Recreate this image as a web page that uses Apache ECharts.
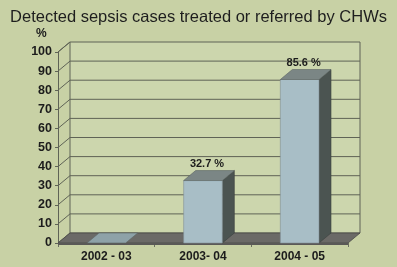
<!DOCTYPE html>
<html>
<head>
<meta charset="utf-8">
<script src="https://cdn.jsdelivr.net/npm/echarts@6/dist/echarts.min.js"></script>
<style>
  html, body { margin: 0; padding: 0; background: #c8d1a5; }
  #chart { width: 397px; height: 267px; }
</style>
</head>
<body>
<div id="chart"></div>
<script>
// datos del grafico
const periods = ['2002 - 03', '2003- 04', '2004 - 05'];
const percentTreated = [0, 32.7, 85.6];
const percentLabels = ['', '32.7 %', '85.6 %'];
const yTicks = [0, 10, 20, 30, 40, 50, 60, 70, 80, 90, 100];

// desplazamiento de la profundidad 3D
const DX = 12, DY = -10;

const chart = echarts.init(document.getElementById('chart'));

// pared del fondo, pared izquierda y lineas de la cuadricula
const renderWall = (params, api) => {
    const cs = params.coordSys;
    const x0 = cs.x, x1 = cs.x + cs.width;
    const yTop = api.coord([0, 100])[1];
    const yBot = api.coord([0, 0])[1];
    const y = api.coord([0, api.value(0)])[1];
    const lineStyle = { stroke: '#5f6356', lineWidth: 1, fill: null };
    const children = [];
    if (params.dataIndex === 0) {
        children.push({
            type: 'polygon',
            shape: { points: [[x0 + DX, yTop + DY], [x1 + DX, yTop + DY], [x1 + DX, yBot + DY], [x0 + DX, yBot + DY]] },
            style: { fill: '#ccd6ad' }
        });
        children.push({
            type: 'polyline',
            shape: { points: [[x0, yTop], [x0 + DX, yTop + DY], [x0 + DX, yBot + DY]] },
            style: lineStyle
        });
        children.push({
            type: 'polyline',
            shape: { points: [[x1 + DX, yTop + DY], [x1 + DX, yBot + DY]] },
            style: lineStyle
        });
    }
    children.push({
        type: 'polyline',
        shape: { points: [[x0, y], [x0 + DX, y + DY], [x1 + DX, y + DY]] },
        style: lineStyle
    });
    return { type: 'group', children };
};

// piso gris oscuro
const renderFloor = (params, api) => {
    const cs = params.coordSys;
    const x0 = cs.x, x1 = cs.x + cs.width;
    const y = api.coord([0, 0])[1];
    return {
        type: 'group',
        children: [
            {
                type: 'polygon',
                shape: { points: [[x0, y], [x0 + DX, y + DY], [x1 + DX, y + DY], [x1, y]] },
                style: { fill: '#6b6a67', stroke: '#4a4a48', lineWidth: 0.8 }
            },
            {
                type: 'polygon',
                shape: { points: [[x0, y], [x1, y], [x1, y + 2], [x0, y + 2]] },
                style: { fill: '#5a5957' }
            }
        ]
    };
};

// barras 3D
const renderBar = (params, api) => {
    const idx = api.value(0);
    const val = api.value(1);
    const base = api.coord([idx, 0]);
    const top = api.coord([idx, val]);
    const w = api.size([1, 0])[0] * 0.4;
    const xl = base[0] - w / 2, xr = base[0] + w / 2;
    const y0 = base[1], y1 = top[1];
    const children = [];
    if (y0 - y1 > 0.5) {
        children.push({
            type: 'polygon',
            shape: { points: [[xr, y1], [xr + DX, y1 + DY], [xr + DX, y0 + DY], [xr, y0]] },
            style: { fill: '#4b5451', stroke: '#3a403e', lineWidth: 0.6 }
        });
        children.push({
            type: 'rect',
            shape: { x: xl, y: y1, width: w, height: y0 - y1 },
            style: { fill: '#a8bec6', stroke: '#7f8f94', lineWidth: 0.6 }
        });
    }
    children.push({
        type: 'polygon',
        shape: { points: [[xl, y1], [xl + DX, y1 + DY], [xr + DX, y1 + DY], [xr, y1]] },
        style: { fill: val > 0 ? '#7b8685' : '#8ea2a8', stroke: '#5c6463', lineWidth: 0.6 }
    });
    const label = percentLabels[idx];
    if (label) {
        children.push({
            type: 'text',
            style: {
                text: label,
                x: base[0] + DX / 2 - 2,
                y: y1 + DY - 1,
                align: 'center',
                verticalAlign: 'bottom',
                fill: '#1c1c1c',
                font: 'bold 11px "Liberation Sans", Arial, sans-serif'
            }
        });
    }
    return { type: 'group', children };
};

const option = {
    backgroundColor: '#c8d1a5',
    animation: false,
    title: {
        text: 'Detected sepsis cases treated or referred by CHWs',
        left: 'center',
        top: 4,
        textStyle: {
            fontFamily: '"Liberation Sans", Arial, sans-serif',
            fontSize: 16.5,
            fontWeight: 'normal',
            color: '#1e1e1e'
        }
    },
    graphic: [{
        type: 'text',
        left: 36,
        top: 28,
        style: {
            text: '%',
            fill: '#1c1c1c',
            font: 'bold 12px "Liberation Sans", Arial, sans-serif'
        }
    }],
    grid: { left: 58, right: 49, top: 52, bottom: 24 },
    xAxis: {
        type: 'category',
        data: periods,
        axisLine: { show: false },
        axisTick: { show: true, length: 4, lineStyle: { color: '#6a6d60' } },
        axisLabel: {
            margin: 8,
            fontFamily: '"Liberation Sans", Arial, sans-serif',
            fontSize: 12,
            fontWeight: 'bold',
            color: '#1c1c1c'
        }
    },
    yAxis: {
        type: 'value',
        min: 0,
        max: 100,
        interval: 10,
        axisLine: { show: true, lineStyle: { color: '#5f6356' } },
        axisTick: { show: true, length: 3, lineStyle: { color: '#5f6356' } },
        splitLine: { show: false },
        axisLabel: {
            margin: 6,
            fontFamily: '"Liberation Sans", Arial, sans-serif',
            fontSize: 12.5,
            fontWeight: 'bold',
            color: '#1c1c1c'
        }
    },
    series: [
        {
            type: 'custom',
            z: 1,
            renderItem: renderWall,
            data: yTicks.map(v => [v]),
            encode: { y: 0 },
            silent: true
        },
        {
            type: 'custom',
            z: 2,
            renderItem: renderFloor,
            data: [[0]],
            silent: true
        },
        {
            type: 'custom',
            z: 3,
            renderItem: renderBar,
            data: percentTreated.map((v, i) => [i, v]),
            encode: { x: 0, y: 1 }
        }
    ]
};

chart.setOption(option);
</script>
</body>
</html>
